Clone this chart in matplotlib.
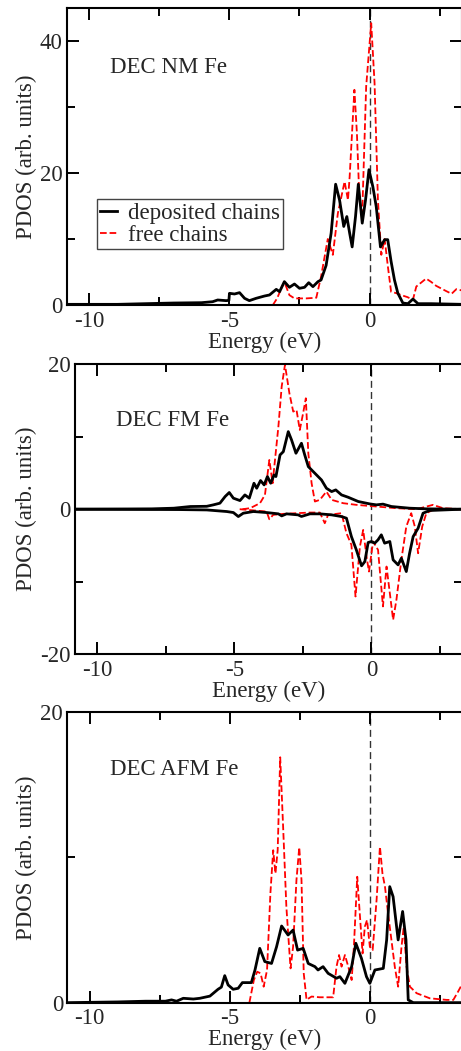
#!/usr/bin/env python3
import matplotlib
matplotlib.use('Agg')
import matplotlib.pyplot as plt
from matplotlib.ticker import MultipleLocator

# --- DEC NM Fe (energy in eV, PDOS) ---
nm_dep_e = [-10.8, -9.0, -8.0, -7.0, -6.0, -5.6, -5.42, -5.12, -5.02, -5.0, -4.82, -4.64, -4.46,
            -4.29, -4.05, -3.75, -3.57, -3.33, -3.21, -3.04, -2.86, -2.68, -2.5, -2.32, -2.17,
            -2.02, -1.84, -1.73, -1.55, -1.37, -1.21, -1.07, -0.92, -0.81, -0.71, -0.62, -0.5,
            -0.4, -0.26, -0.14, -0.02, 0.12, 0.24, 0.39, 0.54, 0.65, 0.77, 0.89, 1.01, 1.19,
            1.37, 1.55, 1.73, 2.2, 3.3]
nm_dep_v = [0.1, 0.1, 0.2, 0.3, 0.35, 0.5, 0.76, 0.66, 0.7, 1.77, 1.67, 1.87, 1.01,
            0.66, 1.01, 1.36, 1.52, 2.37, 2.02, 3.54, 2.68, 3.18, 2.53, 2.68, 3.38,
            2.78, 3.54, 3.79, 6.0, 10.9, 18.3, 15.9, 11.9, 13.4, 10.9, 8.8, 13.4,
            18.3, 12.4, 16.0, 20.5, 17.9, 14.9, 8.8, 9.9, 9.9, 6.6, 3.8, 1.8, 0.3,
            0.2, 0.9, 0.2, 0.2, 0.1]
nm_free_e = [-3.45, -3.3, -3.15, -3.04, -2.86, -2.68, -2.26, -1.9, -1.73, -1.49, -1.31, -1.13,
             -0.89, -0.77, -0.71, -0.54, -0.45, -0.36, -0.26, -0.12, 0.06, 0.18, 0.3, 0.42,
             0.54, 0.65, 0.77, 0.95, 1.13, 1.35, 1.55, 1.67, 2.02, 2.2, 2.38, 2.74, 2.93,
             3.1, 3.3]
nm_free_v = [0.0, 1.0, 2.5, 3.5, 1.5, 1.0, 1.0, 1.1, 4.3, 10.0, 7.6, 13.9,
             18.7, 15.9, 19.4, 32.6, 26.0, 15.9, 13.9, 33.1, 42.7, 33.6, 15.9, 7.6,
             10.0, 6.0, 2.0, 1.8, 1.5, 1.2, 0.8, 2.8, 4.0, 3.5, 2.9, 2.1, 1.7,
             2.4, 2.2]

# --- DEC FM Fe, spin up (positive) and spin down (negative) ---
fm_dep_up_e = [-10.8, -8.0, -7.2, -6.6, -6.0, -5.76, -5.52, -5.33, -5.18, -5.03, -4.79, -4.61,
               -4.45, -4.28, -4.18, -4.04, -3.91, -3.79, -3.67, -3.55, -3.48, -3.33, -3.21,
               -3.03, -2.91, -2.75, -2.55, -2.43, -2.3, -2.06, -1.82, -1.64, -1.45, -1.3,
               -1.09, -0.85, -0.48, -0.06, 0.18, 0.42, 0.73, 1.39, 2.0, 3.3]
fm_dep_up_v = [0.0, 0.05, 0.14, 0.37, 0.4, 0.6, 0.83, 1.75, 2.3, 1.52, 1.19, 1.97,
               1.52, 3.58, 2.89, 3.95, 3.35, 4.5, 3.58, 4.72, 4.5, 7.48, 7.93,
               10.69, 9.54, 7.71, 9.09, 7.48, 5.87, 4.95, 4.03, 2.89, 2.43, 2.66,
               1.97, 1.65, 1.06, 0.73, 0.6, 0.7, 0.37, 0.14, 0.05, 0.0]
fm_dep_dn_e = [-10.8, -7.0, -6.0, -5.27, -5.03, -4.85, -4.67, -4.3, -3.82, -3.39, -3.27, -3.09,
               -2.67, -2.55, -2.24, -1.88, -1.45, -1.09, -0.91, -0.73, -0.55, -0.36, -0.24,
               -0.12, 0.0, 0.12, 0.24, 0.36, 0.48, 0.67, 0.79, 0.97, 1.09, 1.27, 1.39, 1.52,
               1.7, 1.88, 2.12, 3.3]
fm_dep_dn_v = [0.0, -0.05, -0.1, -0.32, -0.46, -1.01, -0.55, -0.32, -0.46, -0.64, -0.92, -0.64,
               -0.78, -1.0, -0.64, -0.64, -0.78, -1.01, -1.24, -3.77, -5.6, -7.8, -7.21,
               -4.59, -4.45, -4.68, -4.22, -3.53, -4.68, -4.45, -6.98, -7.67, -6.75, -8.59,
               -6.07, -3.77, -2.62, -0.55, -0.18, 0.0]
fm_free_up_e = [-4.7, -4.42, -4.06, -3.88, -3.72, -3.6, -3.39, -3.27, -3.15, -2.99, -2.85, -2.73,
                -2.61, -2.49, -2.39, -2.3, -2.18, -2.06, -1.88, -1.64, -1.45, -1.03, -0.55,
                0.18, 0.91, 1.64, 2.24, 2.61, 3.3]
fm_free_up_v = [0.0, 0.14, 0.83, 1.97, 6.79, 3.58, 11.39, 16.9, 19.9, 16.0, 13.45, 13.68,
                10.92, 13.22, 15.29, 7.71, 3.58, 1.06, 1.29, 2.43, 1.29, 0.83, 0.6,
                0.37, 0.14, 0.0, 0.6, 0.14, 0.0]
fm_free_dn_e = [-4.8, -3.82, -3.72, -3.58, -3.21, -2.24, -1.88, -1.7, -1.58, -1.09, -0.91, -0.73,
                -0.58, -0.42, -0.3, -0.18, -0.09, 0.06, 0.24, 0.42, 0.55, 0.67, 0.79, 0.91,
                1.09, 1.27, 1.45, 1.58, 1.7, 1.85, 2.0, 2.24, 3.3]
fm_free_dn_v = [0.0, -0.32, -1.38, -0.78, -0.64, -0.46, -0.46, -1.93, -0.78, -0.55, -3.31, -4.91,
                -12.03, -5.14, -2.85, -6.52, -8.59, -4.45, -5.6, -13.4, -7.9, -11.57, -15.24,
                -12.49, -6.98, -2.39, -0.55, -2.39, -6.07, -2.39, -0.55, -0.09, 0.0]

# --- DEC AFM Fe ---
afm_dep_e = [-10.8, -9.0, -8.0, -7.3, -7.08, -6.9, -6.66, -6.3, -6.07, -5.71, -5.42, -5.3,
             -5.18, -5.06, -4.88, -4.7, -4.55, -4.23, -4.1, -3.93, -3.75, -3.51, -3.33, -3.15,
             -2.92, -2.74, -2.58, -2.38, -2.2, -1.96, -1.85, -1.67, -1.49, -1.19, -1.07, -0.89,
             -0.65, -0.5, -0.3, -0.12, 0.0, 0.18, 0.48, 0.6, 0.71, 0.83, 1.01, 1.17, 1.29,
             1.37, 1.55, 3.3]
afm_dep_v = [0.0, 0.05, 0.1, 0.1, 0.19, 0.1, 0.3, 0.25, 0.3, 0.45, 0.92, 1.07,
             1.86, 1.22, 0.92, 0.99, 1.38, 1.38, 2.25, 3.74, 2.83, 2.7, 3.85, 5.28,
             4.66, 5.0, 3.62, 3.74, 2.7, 2.48, 2.25, 2.48, 2.02, 1.68, 1.79, 1.33,
             2.48, 4.09, 3.05, 1.79, 1.33, 2.25, 2.36, 4.32, 7.99, 7.3, 4.32, 6.28, 4.32,
             0.19, 0.0, 0.0]
afm_free_e = [-4.3, -4.14, -4.02, -3.9, -3.79, -3.67, -3.55, -3.45, -3.37, -3.29, -3.2, -3.1,
              -2.98, -2.9, -2.83, -2.74, -2.62, -2.52, -2.44, -2.36, -2.26, -2.08, -1.79, -1.31,
              -1.19, -1.1, -1.01, -0.89, -0.77, -0.65, -0.57, -0.45, -0.36, -0.26, -0.18, -0.1,
              0.0, 0.1, 0.24, 0.36, 0.45, 0.54, 0.65, 0.77, 0.89, 1.01, 1.13, 1.21, 1.31, 1.43,
              1.67, 2.14, 2.74, 2.98, 3.15, 3.3]
afm_free_v = [0.0, 1.56, 2.13, 2.02, 1.1, 2.25, 7.53, 10.5, 8.9, 10.5, 16.9, 12.3,
              6.6, 4.3, 2.36, 3.85, 8.44, 10.7, 8.44, 2.02, 0.2, 0.42, 0.37, 0.37,
              2.48, 3.28, 2.48, 3.28, 2.48, 1.56, 3.85, 8.67, 6.14, 3.39, 5.23, 5.69,
              3.85, 3.62, 7.07, 10.74, 8.9, 7.99, 6.14, 4.32, 2.48, 1.1, 3.85, 5.23, 2.48, 1.1,
              0.65, 0.3, 0.19, 0.19, 0.76, 1.3]

panel_titles = ['DEC NM Fe', 'DEC FM Fe', 'DEC AFM Fe']
legend_labels = ['deposited chains', 'free chains']

TEXT_COLOR = '#262626'
FONT = 'Liberation Serif'
FS = 16.5

plt.rcParams['font.family'] = [FONT, 'DejaVu Serif']
plt.rcParams['font.size'] = FS
plt.rcParams['axes.unicode_minus'] = False
plt.rcParams['text.color'] = TEXT_COLOR
plt.rcParams['axes.labelcolor'] = TEXT_COLOR
plt.rcParams['xtick.color'] = 'black'
plt.rcParams['ytick.color'] = 'black'
plt.rcParams['xtick.labelcolor'] = TEXT_COLOR
plt.rcParams['ytick.labelcolor'] = TEXT_COLOR


def style_axis(ax, ylim, ylab_x):
    ax.set_xlim(-10.8, 3.3)
    ax.set_ylim(*ylim)
    ax.xaxis.set_major_locator(MultipleLocator(5))
    ax.xaxis.set_minor_locator(MultipleLocator(2.5))
    ax.yaxis.set_major_locator(MultipleLocator(20))
    ax.yaxis.set_minor_locator(MultipleLocator(10))
    ax.tick_params(which='both', direction='in', top=True, right=True, width=1.4)
    ax.tick_params(which='major', length=8.5)
    ax.tick_params(which='minor', length=5.5)
    ax.tick_params(axis='x', which='major', pad=4, labelsize=FS)
    ax.tick_params(axis='y', which='major', pad=3, labelsize=FS)
    for sp in ax.spines.values():
        sp.set_linewidth(1.5)
    ax.set_xlabel('Energy (eV)', labelpad=0)
    ax.set_ylabel('PDOS (arb. units)')
    ax.yaxis.set_label_coords(ylab_x, 0.5)
    ax.axvline(0, color='#333333', lw=1.0, ls=(0, (5, 3)), zorder=1)


def plot_dos():
    fig = plt.figure(figsize=(4.61, 10.51), dpi=100)

    # rectangles in figure fraction
    ax1 = fig.add_axes([0.1453, 0.7098, 0.8568, 0.2826])
    ax2 = fig.add_axes([0.1627, 0.3774, 0.8395, 0.2762])
    ax3 = fig.add_axes([0.1460, 0.0460, 0.8568, 0.2763])

    # --- NM ---
    style_axis(ax1, (0, 45), -0.076)
    ax1.plot(nm_dep_e, nm_dep_v, color='black', lw=2.0, label=legend_labels[0], zorder=3)
    ax1.plot(nm_free_e, nm_free_v, color='red', lw=1.3, ls='--', label=legend_labels[1], zorder=2)
    leg = ax1.legend(loc='upper left', bbox_to_anchor=(0.075, 0.356), borderaxespad=0,
                     handlelength=0.75, handletextpad=0.45, labelspacing=0.05, borderpad=0.15,
                     fancybox=False, framealpha=1, edgecolor='#444444', fontsize=FS)
    leg.get_frame().set_linewidth(1.0)

    # --- FM ---
    style_axis(ax2, (-20, 20), -0.098)
    ax2.plot(fm_dep_up_e, fm_dep_up_v, color='black', lw=2.0, zorder=3)
    ax2.plot(fm_dep_dn_e, fm_dep_dn_v, color='black', lw=2.0, zorder=3)
    ax2.plot(fm_free_up_e, fm_free_up_v, color='red', lw=1.3, ls='--', zorder=2)
    ax2.plot(fm_free_dn_e, fm_free_dn_v, color='red', lw=1.3, ls='--', zorder=2)

    # --- AFM ---
    style_axis(ax3, (0, 20), -0.077)
    ax3.plot(afm_dep_e, afm_dep_v, color='black', lw=2.0, zorder=3)
    ax3.plot(afm_free_e, afm_free_v, color='red', lw=1.3, ls='--', zorder=2)

    for ax, title, ypos in zip([ax1, ax2, ax3], panel_titles, [0.782, 0.786, 0.784]):
        xpos = 0.105 if ax is ax2 else 0.109
        ax.text(xpos, ypos, title, transform=ax.transAxes, ha='left', va='baseline', fontsize=FS)

    fig.savefig('out.png', dpi=100)


if __name__ == '__main__':
    plot_dos()
